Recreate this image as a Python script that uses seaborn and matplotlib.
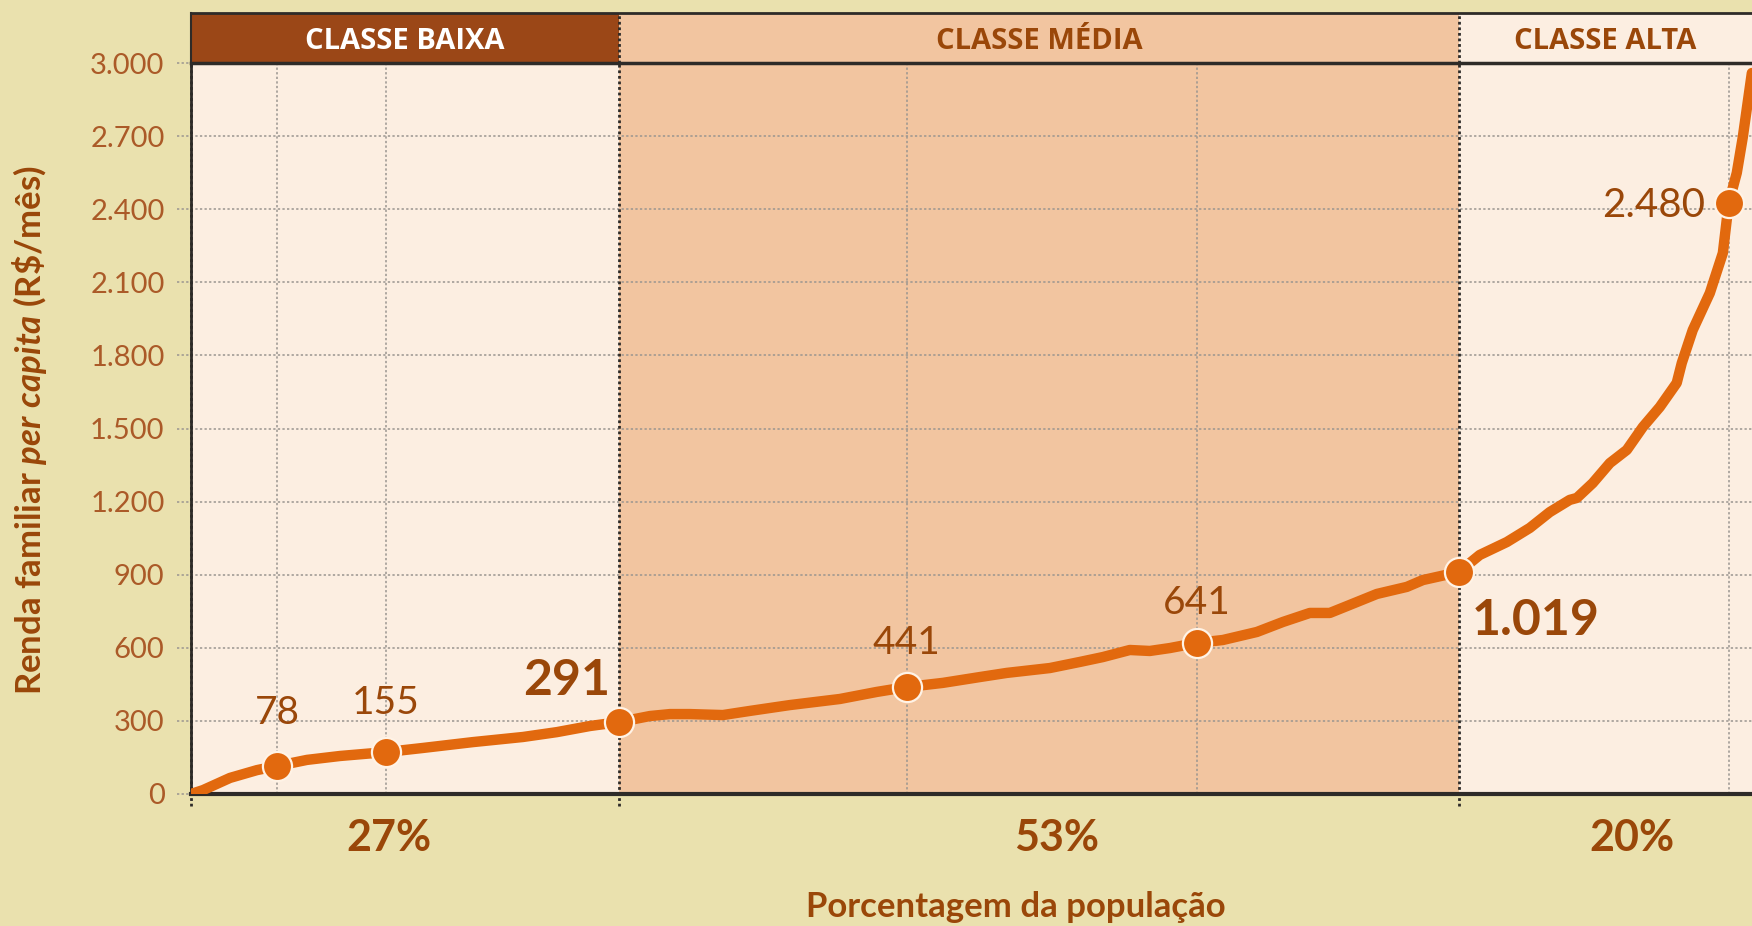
import matplotlib.pyplot as plt
import seaborn as sns

# =====================================
# Dados
# =====================================

pop_pct = [0, 0.76, 2.46, 4.16, 5.43, 7.32, 9.40, 12.30, 14.64, 17.79, 20.95,
           23.09, 25.17, 27.0, 28.96, 30.22, 31.48, 33.56, 35.27, 37.79, 40.95,
           43.28, 45.17, 47.44, 49.78, 51.48, 54.20, 56.09, 57.54, 59.24, 60.50,
           61.77, 63.47, 65.11, 67.26, 68.90, 70.60, 71.86, 73.12, 74.83, 76.72,
           77.73, 80.0, 81.32, 83.03, 84.48, 85.74, 87.00, 87.45, 88.45, 89.53,
           90.60, 91.61, 92.68, 93.75, 94.07, 94.76, 95.84, 96.66, 97.03, 97.54,
           97.92, 98.49]
renda = [0, 16, 66, 98, 115, 140, 156, 172, 189, 213, 234,
         254, 279, 295, 320, 328, 328, 324, 341, 365, 390,
         419, 439, 456, 480, 497, 517, 542, 562, 591, 587,
         599, 620, 632, 665, 706, 743, 743, 776, 821, 850,
         878, 911, 981, 1034, 1092, 1157, 1207, 1215, 1276, 1358,
         1412, 1506, 1588, 1687, 1769, 1904, 2056, 2220, 2425, 2549,
         2696, 2959]

ponto_pct = [5.43, 12.30, 27.0, 45.17, 63.47, 80.0, 97.03]
ponto_renda = [115, 172, 295, 439, 620, 911, 2425]
ponto_rotulo = ["78", "155", "291", "441", "641", "1.019", "2.480"]

classes = ["CLASSE BAIXA", "CLASSE MÉDIA", "CLASSE ALTA"]
classe_limites = [0, 27, 80, 100]
classe_pct = ["27%", "53%", "20%"]

yticks = [0, 300, 600, 900, 1200, 1500, 1800, 2100, 2400, 2700, 3000]
ytick_rotulos = ["0", "300", "600", "900", "1.200", "1.500", "1.800",
                 "2.100", "2.400", "2.700", "3.000"]

# =====================================
# Estilo
# =====================================

sns.set_theme(style="white")
plt.rcParams["font.family"] = ["Lato", "DejaVu Sans"]
plt.rcParams["mathtext.fontset"] = "custom"
plt.rcParams["mathtext.it"] = "Lato:italic:bold"
plt.rcParams["mathtext.rm"] = "Lato:bold"

fundo = "#EAE1AE"
creme = "#FCEEE1"
media_cor = "#F2C5A0"
baixa_cor = "#9B4717"
marrom = "#9A4709"
marrom_claro = "#AB5A28"
laranja = "#E2690E"
escuro = "#2E2B28"
cinza = "#9A9590"

W, H = 1752, 926
fig = plt.figure(figsize=(W / 100, H / 100), dpi=100, facecolor=fundo)

x0, x1 = 191, 1752
y_top, y_bot = 63, 794
ax = fig.add_axes([x0 / W, 1 - y_bot / H, (x1 - x0) / W, (y_bot - y_top) / H])
hdr = fig.add_axes([x0 / W, 1 - y_top / H, (x1 - x0) / W, (y_top - 13) / H], sharex=ax)

xmax = 98.5
ax.set_xlim(0, xmax)
ax.set_ylim(0, 3000)

# fundos das classes
cores_fundo = [creme, media_cor, creme]
cores_hdr = [baixa_cor, media_cor, creme]
cores_txt = ["white", marrom, marrom]
for i in range(3):
    ax.axvspan(classe_limites[i], classe_limites[i + 1], color=cores_fundo[i], lw=0, zorder=0)
    hdr.axvspan(classe_limites[i], classe_limites[i + 1], color=cores_hdr[i], lw=0, zorder=0)
    meio = (classe_limites[i] + min(classe_limites[i + 1], xmax)) / 2
    hdr.text(meio, 0.43, classes[i], ha="center", va="center", color=cores_txt[i],
             fontsize=21, fontweight="bold", family=["Open Sans", "DejaVu Sans"])

hdr.set_ylim(0, 1)
hdr.set_xticks([])
hdr.set_yticks([])
hdr.spines["right"].set_visible(False)
for lado in ["top", "bottom", "left"]:
    hdr.spines[lado].set_color(escuro)
hdr.spines["top"].set_linewidth(2)
hdr.spines["bottom"].set_linewidth(2.5)
hdr.spines["left"].set_linewidth(1.5)

# grade
ax.hlines(yticks, -0.009, 1, transform=ax.get_yaxis_transform(), colors=cinza,
          linestyles=(0, (1.5, 1.5)), lw=1.1, clip_on=False, zorder=1)
grade_x = [p for p in ponto_pct if p not in (27.0, 80.0)]
ax.vlines(grade_x, 0, 1, transform=ax.get_xaxis_transform(), colors=cinza,
          linestyles=(0, (1.5, 1.5)), lw=1.1, zorder=1)
ax.vlines([0, 27, 80], -0.017, 1, transform=ax.get_xaxis_transform(), colors=escuro,
          linestyles=(0, (1, 1)), lw=2, clip_on=False, zorder=2)
hdr.vlines([27, 80], 0, 1, transform=hdr.get_xaxis_transform(), colors=escuro,
           linestyles=(0, (1, 1)), lw=2, zorder=2)

# curva e pontos
sns.lineplot(x=pop_pct, y=renda, ax=ax, color=laranja, lw=7.5, estimator=None,
             solid_capstyle="round", solid_joinstyle="round", zorder=4)
sns.scatterplot(x=ponto_pct, y=ponto_renda, ax=ax, s=440, color=laranja,
                edgecolor="#FFF3E6", linewidth=1.6, zorder=5)

# rótulos dos pontos: (dx, dy, ha, tamanho, peso)
estilo_rot = [
    (0, 38, "center", 28, "normal"),
    (0, 35, "center", 28, "normal"),
    (-6, 30, "right", 36, "bold"),
    (0, 32, "center", 28, "normal"),
    (0, 29, "center", 28, "normal"),
    (9, -35, "left", 36, "bold"),
    (-17, -2, "right", 29, "normal"),
]
for xp, yp, rot, (dx, dy, ha, fs, fw) in zip(ponto_pct, ponto_renda, ponto_rotulo, estilo_rot):
    ax.annotate(rot, (xp, yp), xytext=(dx, dy), textcoords="offset points",
                ha=ha, va="center", fontsize=fs, fontweight=fw, color=marrom, zorder=6)

# porcentagens por classe
pos_pct = [12.5, 54.6, 90.9]
for xp, t in zip(pos_pct, classe_pct):
    ax.text(xp, -0.06, t, transform=ax.get_xaxis_transform(), ha="center", va="center",
            fontsize=31, fontweight="bold", color=marrom)

# eixos
ax.set_xticks([])
ax.set_yticks(yticks)
ax.set_yticklabels(ytick_rotulos)
ax.tick_params(axis="y", length=0, pad=19, labelsize=21, labelcolor=marrom_claro)
for lado in ["top", "right"]:
    ax.spines[lado].set_visible(False)
ax.spines["left"].set_color(escuro)
ax.spines["left"].set_linewidth(2)
ax.spines["bottom"].set_color(escuro)
ax.spines["bottom"].set_linewidth(3)
ax.set_xlabel("")
ax.set_ylabel("")

fig.text(1016 / W, 1 - 907 / H, "Porcentagem da população", ha="center", va="center",
         fontsize=25, fontweight="bold", color=marrom)
fig.text(30 / W, 1 - 430 / H, "Renda familiar $\\mathit{per\\ capita}$ (R\\$/mês)",
         rotation=90, ha="center", va="center", fontsize=25, fontweight="bold", color=marrom)

fig.savefig("out.png", dpi=100, facecolor=fundo)
